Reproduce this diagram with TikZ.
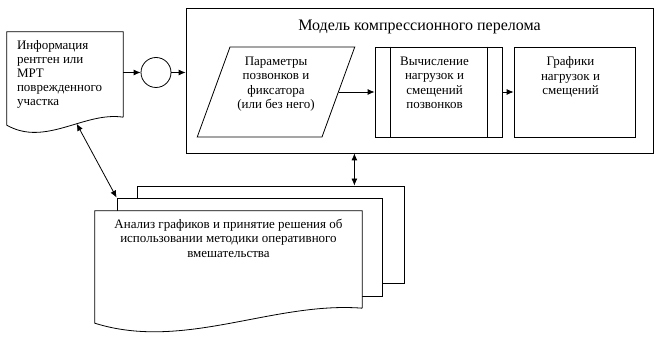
\documentclass[tikz,border=0pt]{standalone}
\usepackage{fontspec}
\setmainfont{Liberation Serif}
\usetikzlibrary{arrows.meta,positioning,shapes.geometric}
\tikzset{
  >={Latex[length=7pt,width=6pt]},
  every node/.style={font=\fontsize{13}{14.5}\selectfont},
  box/.style={draw,line width=0.8pt,fill=white,inner sep=0pt},
  iobox/.style={draw,line width=0.8pt,fill=white,trapezium,trapezium left angle=70,trapezium right angle=110},
  body/.style={inner sep=0pt},
  outline/.style={line width=0.8pt,fill=white},
  sep/.style={line width=0.8pt},
  conn/.style={->,line width=0.8pt},
  biconn/.style={<->,line width=0.8pt},
  boxtext/.style={align=center,anchor=north,inner sep=0pt},
  doctext/.style={align=left,inner sep=0pt,font=\fontsize{13}{14}\selectfont},
  titletext/.style={inner sep=0pt,anchor=north,font=\fontsize{16}{18}\selectfont},
}
\begin{document}
\begin{tikzpicture}[x=1pt,y=-1pt]
\useasboundingbox (0,0) rectangle (659,347);
% source document
\node[body,minimum width=116pt,minimum height=85pt] (info) at (65,74.5) {};
\draw[outline] (info.south east) -- (info.north east) -- (info.north west)
  -- ([yshift=-8pt]info.south west)
  .. controls +(38.7,22) and +(-38.7,-6) .. coordinate[pos=0.6] (infowave) (info.south east);
\node[doctext,below right=8pt and 10pt of info.north west] (infolbl) {Информация\\рентген или\\МРТ\\поврежденного\\участка};
\node[box,circle,minimum size=30pt] (join) at (156,72.5) {};
% model
\node[box,minimum width=467pt,minimum height=145pt] (model) at (419.5,80.5) {};
\node[titletext,below=12pt of model.north] (modeltitle) {Модель компрессионного перелома};
\node[iobox,inner xsep=46pt,inner ysep=45pt] (params) at (276,92) {};
\node[boxtext,below=10pt of params.north] (paramslbl) {Параметры\\позвонков и\\фиксатора\\(или без него)};
\node[box,minimum width=127pt,minimum height=90pt] (calc) at (438.5,92) {};
\draw[sep] ([xshift=16pt]calc.north west) -- ([xshift=16pt]calc.south west);
\draw[sep] ([xshift=-15pt]calc.north east) -- ([xshift=-15pt]calc.south east);
\node[boxtext,below=10pt of calc.north,xshift=-4pt] (calclbl) {Вычисление\\нагрузок и\\смещений\\позвонков};
\node[box,minimum width=121pt,minimum height=90pt] (graphs) at (574.5,92) {};
\node[boxtext,below=10pt of graphs.north,xshift=-4pt] (graphslbl) {Графики\\нагрузок и\\смещений};
% decision (multi-document)
\node[box,minimum width=267pt,minimum height=97pt] (back) at (270.5,234.5) {};
\node[box,minimum width=265pt,minimum height=98pt] (middle) at (249.5,247) {};
\node[body,minimum width=267pt,minimum height=97pt] (front) at (228.5,259.5) {};
\draw[outline] (front.south east) -- (front.north east) -- (front.north west)
  -- ([yshift=-15pt]front.south west)
  .. controls +(89,28) and +(-89,-7) .. (front.south east);
\node[boxtext,below=8pt of front.north] (frontlbl) {Анализ графиков и принятие решения об\\использовании методики оперативного\\вмешательства};
\coordinate (backtop) at ([xshift=-50pt]back.north east);
% connectors
\draw[conn] (info.east |- join) -- (join);
\draw[conn] (join) -- (join -| model.west);
\draw[conn] (params.east) -- (params.east -| calc.west);
\draw[conn] (calc.east) -- (graphs.west);
\draw[biconn] (model.south -| backtop) -- (backtop);
\draw[biconn] (infowave) -- (middle.north west);
\end{tikzpicture}
\end{document}
